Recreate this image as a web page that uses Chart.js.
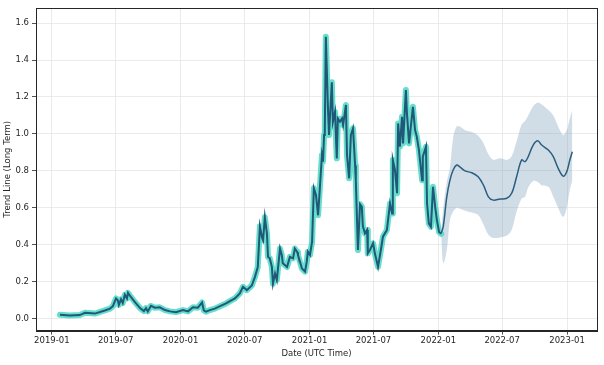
<!DOCTYPE html>
<html>
<head>
<meta charset="utf-8">
<script src="https://cdn.jsdelivr.net/npm/chart.js@4.4.1/dist/chart.umd.min.js"></script>
<style>
  html, body { margin: 0; padding: 0; background: #fff; }
  #wrap { width: 604px; height: 365px; }
</style>
</head>
<body>
<div id="wrap"><canvas id="chart"></canvas></div>
<script>
// history (actual + fitted trend)
const histDates = [
  '2019-01-24', '2019-02-21', '2019-03-21', '2019-04-05', '2019-05-03', '2019-05-31', '2019-06-15', '2019-06-23',
  '2019-07-02', '2019-07-07', '2019-07-10', '2019-07-16', '2019-07-21', '2019-07-27', '2019-08-02', '2019-08-05',
  '2019-08-13', '2019-08-24', '2019-09-08', '2019-09-19', '2019-09-25', '2019-09-30', '2019-10-09', '2019-10-20',
  '2019-11-03', '2019-11-18', '2019-12-02', '2019-12-19', '2020-01-08', '2020-01-22', '2020-02-05', '2020-02-19',
  '2020-03-02', '2020-03-07', '2020-03-13', '2020-03-24', '2020-04-07', '2020-04-22', '2020-05-09', '2020-05-20',
  '2020-06-03', '2020-06-17', '2020-06-26', '2020-07-07', '2020-07-21', '2020-07-30', '2020-08-07', '2020-08-13',
  '2020-08-19', '2020-08-22', '2020-08-27', '2020-09-02', '2020-09-05', '2020-09-10', '2020-09-16', '2020-09-19',
  '2020-09-25', '2020-09-30', '2020-10-09', '2020-10-14', '2020-10-17', '2020-10-29', '2020-11-06', '2020-11-15',
  '2020-11-20', '2020-11-27', '2020-11-29', '2020-12-10', '2020-12-19', '2020-12-24', '2020-12-27', '2021-01-02',
  '2021-01-08', '2021-01-13', '2021-01-19', '2021-01-25', '2021-01-30', '2021-02-05', '2021-02-08', '2021-02-11',
  '2021-02-13', '2021-02-16', '2021-02-22', '2021-02-25', '2021-03-05', '2021-03-08', '2021-03-14', '2021-03-19',
  '2021-03-22', '2021-03-28', '2021-04-03', '2021-04-06', '2021-04-14', '2021-04-17', '2021-04-23', '2021-04-28',
  '2021-05-04', '2021-05-10', '2021-05-12', '2021-05-18', '2021-05-24', '2021-05-29', '2021-06-01', '2021-06-07',
  '2021-06-13', '2021-06-15', '2021-06-21', '2021-06-30', '2021-07-05', '2021-07-14', '2021-07-22', '2021-07-28',
  '2021-08-08', '2021-08-17', '2021-08-23', '2021-08-25', '2021-08-31', '2021-09-06', '2021-09-09', '2021-09-14',
  '2021-09-20', '2021-09-23', '2021-10-01', '2021-10-04', '2021-10-10', '2021-10-15', '2021-10-21', '2021-10-27',
  '2021-11-01', '2021-11-07', '2021-11-16', '2021-11-18', '2021-11-27', '2021-11-30', '2021-12-05', '2021-12-11',
  '2021-12-17', '2021-12-23', '2021-12-28', '2022-01-03', '2022-01-09'
];
const histValues = [
  0.022, 0.018, 0.020, 0.032, 0.028, 0.045, 0.055, 0.068,
  0.110, 0.100, 0.075, 0.105, 0.085, 0.130, 0.110, 0.140,
  0.118, 0.092, 0.058, 0.042, 0.058, 0.040, 0.070, 0.060,
  0.062, 0.047, 0.040, 0.036, 0.047, 0.040, 0.062, 0.060,
  0.088, 0.045, 0.038, 0.047, 0.055, 0.068, 0.083, 0.095,
  0.110, 0.137, 0.173, 0.155, 0.180, 0.227, 0.280, 0.500,
  0.440, 0.425, 0.550, 0.460, 0.335, 0.327, 0.280, 0.190,
  0.245, 0.210, 0.380, 0.345, 0.300, 0.280, 0.335, 0.327,
  0.380, 0.360, 0.345, 0.273, 0.255, 0.310, 0.363, 0.345,
  0.417, 0.706, 0.670, 0.560, 0.706, 0.886, 0.850, 0.994,
  1.012, 1.526, 1.140, 0.994, 1.280, 1.066, 1.120, 0.868,
  1.084, 1.066, 1.084, 1.048, 1.157, 0.886, 0.760, 0.994,
  1.030, 0.830, 0.750, 0.372, 0.620, 0.606, 0.500, 0.462,
  0.480, 0.354, 0.372, 0.408, 0.354, 0.281, 0.372, 0.444,
  0.480, 0.624, 0.570, 0.859, 0.805, 0.679, 1.057, 0.931,
  1.093, 0.949, 1.238, 1.111, 0.949, 1.039, 1.147, 1.021,
  0.985, 0.913, 0.750, 0.877, 0.931, 0.624, 0.516, 0.498,
  0.714, 0.606, 0.534, 0.470, 0.460
];

// forecast with uncertainty band
const fcDates = [
  '2022-01-09', '2022-01-15', '2022-01-25', '2022-02-03', '2022-02-12', '2022-02-22', '2022-03-03', '2022-03-18',
  '2022-04-06', '2022-04-24', '2022-05-09', '2022-05-23', '2022-06-06', '2022-06-25', '2022-07-14', '2022-07-28',
  '2022-08-11', '2022-08-25', '2022-09-04', '2022-09-13', '2022-09-27', '2022-10-10', '2022-10-21', '2022-11-09',
  '2022-11-23', '2022-12-07', '2022-12-21', '2022-12-31', '2023-01-09', '2023-01-16'
];
const fcValues = [
  0.462, 0.500, 0.660, 0.750, 0.805, 0.832, 0.822, 0.800,
  0.790, 0.768, 0.723, 0.660, 0.642, 0.648, 0.652, 0.679,
  0.768, 0.859, 0.850, 0.877, 0.940, 0.963, 0.940, 0.913,
  0.877, 0.814, 0.772, 0.795, 0.859, 0.904
];
const fcUpper = [
  0.470, 0.600, 0.740, 0.820, 0.980, 1.040, 1.040, 1.020,
  1.010, 0.990, 0.950, 0.890, 0.860, 0.868, 0.860, 0.880,
  0.960, 1.050, 1.070, 1.100, 1.150, 1.170, 1.160, 1.130,
  1.100, 1.040, 0.994, 1.020, 1.084, 1.130
];
const fcLower = [
  0.450, 0.300, 0.372, 0.534, 0.580, 0.600, 0.595, 0.585,
  0.575, 0.561, 0.510, 0.455, 0.438, 0.440, 0.450, 0.480,
  0.580, 0.650, 0.660, 0.710, 0.745, 0.740, 0.723, 0.714,
  0.660, 0.600, 0.552, 0.600, 0.700, 0.750
];

const tickLabels = ['2019-01', '2019-07', '2020-01', '2020-07', '2021-01', '2021-07', '2022-01', '2022-07', '2023-01'];
const yTicks = [0, 0.2, 0.4, 0.6, 0.8, 1.0, 1.2, 1.4, 1.6];

const toPts = (dates, vals) => dates.map((d, i) => ({ x: Date.parse(d), y: vals[i] }));

const FONT = { family: 'DejaVu Sans', size: 8.5 };
const INK = '#262626';

const frame = {
  id: 'frame',
  afterDraw(chart) {
    const a = chart.chartArea;
    const ctx = chart.ctx;
    ctx.save();
    ctx.strokeStyle = INK;
    ctx.lineWidth = 1;
    ctx.strokeRect(Math.round(a.left) + 0.5, Math.round(a.top) + 0.5,
      Math.round(a.right - a.left), Math.round(a.bottom - a.top));
    ctx.restore();
  },
};

new Chart(document.getElementById('chart'), {
  type: 'line',
  data: {
    datasets: [
      {
        label: 'upper',
        data: toPts(fcDates, fcUpper),
        borderWidth: 0,
        borderColor: 'rgba(0,0,0,0)',
        backgroundColor: 'rgba(135,165,188,0.38)',
        fill: '+1',
        pointRadius: 0,
        tension: 0.35,
        order: 5,
      },
      {
        label: 'lower',
        data: toPts(fcDates, fcLower),
        borderWidth: 0,
        borderColor: 'rgba(0,0,0,0)',
        fill: false,
        pointRadius: 0,
        tension: 0.35,
        order: 6,
      },
      {
        label: 'actual',
        data: toPts(histDates, histValues),
        borderColor: 'rgba(64,214,190,0.8)',
        borderWidth: 6,
        borderJoinStyle: 'round',
        borderCapStyle: 'round',
        pointRadius: 0,
        tension: 0,
        fill: false,
        order: 3,
      },
      {
        label: 'trend',
        data: toPts(histDates, histValues),
        borderColor: '#1f5878',
        borderWidth: 2,
        pointRadius: 0,
        tension: 0,
        fill: false,
        order: 2,
      },
      {
        label: 'forecast',
        data: toPts(fcDates, fcValues),
        borderColor: '#2a5f80',
        borderWidth: 1.5,
        pointRadius: 0,
        tension: 0.35,
        fill: false,
        order: 1,
      },
    ],
  },
  options: {
    responsive: true,
    maintainAspectRatio: false,
    animation: false,
    layout: { padding: { top: 8, right: 7, bottom: 6, left: 0 } },
    plugins: { legend: { display: false }, tooltip: { enabled: false } },
    scales: {
      x: {
        type: 'linear',
        min: Date.parse('2018-11-17'),
        max: Date.parse('2023-03-27'),
        afterBuildTicks: s => { s.ticks = tickLabels.map(l => ({ value: Date.parse(l + '-01') })); },
        ticks: {
          font: FONT,
          color: INK,
          padding: 1,
          maxRotation: 0,
          callback: v => new Date(v).toISOString().slice(0, 7),
        },
        grid: { color: '#e6e6e6', lineWidth: 0.8, tickColor: INK, tickLength: 4 },
        border: { color: INK, width: 1 },
        title: { display: true, text: 'Date (UTC Time)', font: FONT, color: INK, padding: { top: 2, bottom: 0 } },
      },
      y: {
        min: -0.064,
        max: 1.681,
        afterBuildTicks: s => { s.ticks = yTicks.map(v => ({ value: v })); },
        afterFit: s => { s.width = 36; },
        ticks: {
          font: FONT,
          color: INK,
          padding: 3,
          callback: v => v.toFixed(1),
        },
        grid: { color: '#e6e6e6', lineWidth: 0.8, tickColor: INK, tickLength: 4 },
        border: { color: INK, width: 1 },
        title: { display: true, text: 'Trend Line (Long Term)', font: FONT, color: INK, padding: { top: 3, bottom: 0 } },
      },
    },
  },
  plugins: [frame],
});
</script>
</body>
</html>
